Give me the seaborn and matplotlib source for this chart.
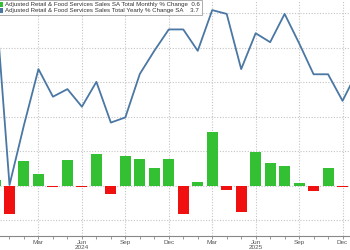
import matplotlib
matplotlib.use("Agg")
import matplotlib.pyplot as plt
import seaborn as sns
import pandas as pd
import numpy as np

months = ["Dec 2023",
          "Jan 2024", "Feb 2024", "Mar 2024", "Apr 2024", "May 2024", "Jun 2024",
          "Jul 2024", "Aug 2024", "Sep 2024", "Oct 2024", "Nov 2024", "Dec 2024",
          "Jan 2025", "Feb 2025", "Mar 2025", "Apr 2025", "May 2025", "Jun 2025",
          "Jul 2025", "Aug 2025", "Sep 2025", "Oct 2025", "Nov 2025", "Dec 2025",
          "Jan 2026"]
monthly_change = [0.16,
                  -0.83, 0.72, 0.35, -0.03, 0.75, -0.05,
                  0.93, -0.25, 0.87, 0.77, 0.50, 0.77,
                  -0.83, 0.11, 1.55, -0.11, -0.77, 0.99,
                  0.65, 0.56, 0.07, -0.14, 0.51, -0.03,
                  0.6]
yearly_change = [6.4,
                 0.83, 2.57, 4.19, 3.39, 3.61, 3.10,
                 3.82, 2.64, 2.79, 4.05, 4.72, 5.34,
                 5.34, 4.72, 5.90, 5.79, 4.19, 5.23,
                 4.97, 5.79, 4.94, 4.04, 4.04, 3.27,
                 4.1]
tick_labels = {3: "Mar", 6: "Jun", 9: "Sep", 12: "Dec",
               15: "Mar", 18: "Jun", 21: "Sep", 24: "Dec"}
year_labels = {6: "2024", 18: "2025"}
legend_labels = ["Adjusted Retail & Food Services Sales SA Total Monthly % Change  0.6",
                 "Adjusted Retail & Food Services Sales Total Yearly % Change SA    3.7"]

GREEN = "#33c133"
RED = "#f01010"
BLUE = "#4a77a3"
GRID = "#c4c4c4"

df = pd.DataFrame({"month": months, "mom": monthly_change, "yoy": yearly_change})
df["pos"] = np.arange(len(df))
df["sign"] = np.where(df["mom"] >= 0, "pos", "neg")

sns.set_style("white")
plt.rcParams["font.family"] = ["Liberation Sans", "DejaVu Sans"]

fig = plt.figure(figsize=(3.5, 2.5), dpi=100)
ax = fig.add_axes([0, 0.0572, 1, 0.9428])

sns.barplot(data=df, x="month", y="mom", hue="sign",
            palette={"pos": GREEN, "neg": RED}, dodge=False, saturation=1,
            width=0.76, legend=False, ax=ax, linewidth=0, order=months)

ax.set_ylim(-1.449, 5.383)
ax.set_xlim(0.344, 24.515)

ax2 = ax.twinx()
sns.lineplot(data=df, x="pos", y="yoy", color=BLUE, linewidth=1.3, ax=ax2)
ax2.set_ylim(-0.639, 6.193)
ax2.set_xlim(0.344, 24.515)
ax2.set_axis_off()

# grid
for v in range(-1, 6):
    ax.axhline(v, color=GRID, lw=0.8, ls=(0, (1, 1.5)), zorder=0)
for p in tick_labels:
    ax.axvline(p, color=GRID, lw=0.8, ls=(0, (1, 1.5)), zorder=0)

ax.set_xlabel("")
ax.set_ylabel("")
ax.set_yticks([])
ax.set_xticks(list(tick_labels.keys()))
ax.set_xticklabels(list(tick_labels.values()), fontsize=4.6, color="#555555")
ax.set_xticks(np.arange(1, 25), minor=True)
ax.tick_params(axis="x", which="both", direction="out", length=2, width=0.6,
               color="#888888", pad=0.8, bottom=True)
for s in ["top", "right", "left"]:
    ax.spines[s].set_visible(False)
ax.spines["bottom"].set_color("#888888")
ax.spines["bottom"].set_linewidth(0.8)

for p, t in year_labels.items():
    ax.annotate(t, xy=(p, 0), xycoords=("data", "axes fraction"),
                xytext=(0, -11.5), textcoords="offset pixels",
                ha="center", va="center", fontsize=4.6, color="#555555",
                annotation_clip=False)

from matplotlib.patches import Patch
handles = [Patch(facecolor=GREEN, edgecolor="none"),
           Patch(facecolor=BLUE, edgecolor="none")]
leg = ax2.legend(handles, legend_labels, loc="upper left",
                 bbox_to_anchor=(-0.012, 1.0), borderaxespad=0,
                 fontsize=4.4, frameon=True, fancybox=False,
                 handlelength=0.9, handleheight=0.9, handletextpad=0.4,
                 labelspacing=0.1, borderpad=0.25)
leg.get_frame().set_edgecolor("#888888")
leg.get_frame().set_linewidth(0.6)
for t in leg.get_texts():
    t.set_color("#333333")

fig.savefig("out.png", dpi=100)
